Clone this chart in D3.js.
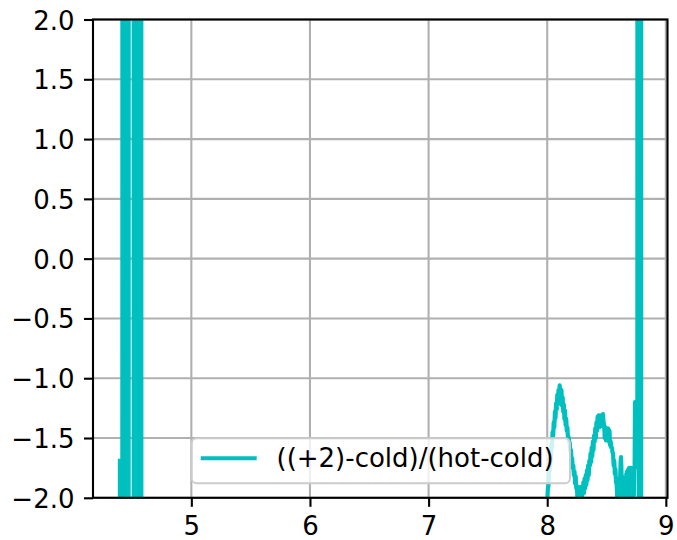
<!DOCTYPE html>
<html>
<head>
<meta charset="utf-8">
<script src="https://cdn.jsdelivr.net/npm/d3@7"></script>
<style>
  html, body { margin: 0; padding: 0; background: #ffffff; }
  svg { display: block; }
  text { font-family: "DejaVu Sans", sans-serif; fill: #000; }
</style>
</head>
<body>
<script>
// ---- data ----
const seriesLabel = "((+2)-cold)/(hot-cold)";
const xTicks = [5, 6, 7, 8, 9];
const yTicks = [-2.0, -1.5, -1.0, -0.5, 0.0, 0.5, 1.0, 1.5, 2.0];
const xDomain = [4.171, 9.014];
const yDomain = [-2, 2];

// left block: wild oscillations (x, ratio)
const xsLeft = [
  4.398, 4.412, 4.425, 4.432, 4.440, 4.447, 4.455, 4.466, 4.476, 4.486, 4.498, 4.508,
  4.520, 4.528, 4.536, 4.545, 4.553, 4.561, 4.569, 4.575, 4.582
];
const ratioLeft = [
  -1.69, -60, 55, -48, 62, -52, 45, -55, 50, 65, 48, 57,
  -50, 52, -47, 60, -55, 49, -62, 44, -50
];
// middle: below the visible range
const xsMid = [4.62, 4.90, 5.40, 6.00, 6.60, 7.20, 7.70, 7.985];
const ratioMid = [-12, -6, -4.5, -3.8, -3.2, -2.9, -2.6, -2.4];
// right block: noisy bumps
const xsRight = [
  8.000, 8.005, 8.010, 8.015, 8.020, 8.025, 8.030, 8.035, 8.040, 8.045, 8.050, 8.055,
  8.060, 8.065, 8.070, 8.075, 8.080, 8.085, 8.090, 8.095, 8.100, 8.105, 8.110, 8.115,
  8.120, 8.125, 8.130, 8.135, 8.140, 8.145, 8.150, 8.155, 8.160, 8.165, 8.170, 8.175,
  8.180, 8.185, 8.190, 8.195, 8.200, 8.205, 8.210, 8.215, 8.220, 8.225, 8.230, 8.235,
  8.240, 8.245, 8.250, 8.255, 8.260, 8.265, 8.270, 8.275, 8.280, 8.285, 8.290, 8.295,
  8.300, 8.305, 8.310, 8.315, 8.320, 8.325, 8.330, 8.335, 8.340, 8.345, 8.350, 8.355,
  8.360, 8.365, 8.370, 8.375, 8.380, 8.385, 8.390, 8.395, 8.400, 8.405, 8.410, 8.415,
  8.420, 8.425, 8.430, 8.435, 8.440, 8.445, 8.450, 8.455, 8.460, 8.465, 8.470, 8.475,
  8.480, 8.485, 8.490, 8.495, 8.500, 8.505, 8.510, 8.515, 8.520, 8.525, 8.530, 8.535,
  8.540, 8.545, 8.550, 8.555, 8.560, 8.565, 8.570, 8.575, 8.580, 8.585, 8.590, 8.595,
  8.598, 8.601, 8.604, 8.607, 8.610, 8.613, 8.616, 8.619, 8.622, 8.625, 8.628, 8.631,
  8.634, 8.637, 8.640, 8.643, 8.646, 8.649, 8.652, 8.655, 8.658, 8.661, 8.664, 8.667,
  8.670, 8.673, 8.676, 8.679, 8.682, 8.685, 8.688, 8.691, 8.694, 8.697, 8.700, 8.703,
  8.706, 8.709, 8.712, 8.715, 8.718, 8.721, 8.724, 8.727, 8.730, 8.733, 8.737, 8.740,
  8.760, 8.767, 8.775, 8.782, 8.790, 8.794
];
const ratioRight = [
  -2.05, -1.93, -1.90, -1.78, -1.78, -1.67, -1.69, -1.55, -1.58, -1.45, -1.48, -1.37,
  -1.41, -1.28, -1.33, -1.21, -1.26, -1.14, -1.22, -1.10, -1.16, -1.06, -1.14, -1.15,
  -1.10, -1.23, -1.16, -1.28, -1.22, -1.34, -1.27, -1.39, -1.34, -1.44, -1.41, -1.50,
  -1.49, -1.53, -1.54, -1.61, -1.60, -1.68, -1.67, -1.75, -1.73, -1.81, -1.78, -1.88,
  -1.82, -1.92, -1.90, -2.01, -2.06, -1.93, -1.94, -1.95, -1.91, -2.05, -2.09, -1.96,
  -1.97, -1.87, -1.96, -1.84, -1.92, -1.81, -1.89, -1.77, -1.85, -1.73, -1.81, -1.69,
  -1.73, -1.63, -1.70, -1.58, -1.65, -1.53, -1.60, -1.48, -1.53, -1.42, -1.50, -1.37,
  -1.44, -1.32, -1.40, -1.31, -1.41, -1.31, -1.35, -1.40, -1.33, -1.35, -1.30, -1.37,
  -1.39, -1.50, -1.41, -1.52, -1.43, -1.47, -1.45, -1.42, -1.53, -1.44, -1.56, -1.53,
  -1.58, -1.58, -1.62, -1.63, -1.73, -1.69, -1.80, -1.76, -1.87, -1.88, -1.98, -2.10,
  -1.95, -2.08, -1.86, -1.92, -1.84, -1.96, -1.80, -1.70, -1.66, -1.74, -1.90, -1.82,
  -2.06, -1.95, -2.10, -1.98, -2.08, -1.92, -2.10, -1.88, -2.05, -1.84, -1.96, -1.80,
  -2.02, -1.78, -1.94, -1.77, -2.00, -1.76, -1.92, -1.75, -2.04, -1.76, -1.90, -1.75,
  -2.06, -1.77, -1.95, -1.76, -2.02, -1.75, -1.88, -1.76, -1.98, -1.76, -1.75, -1.20,
  -1.25, 60, -50, 55, -45, 40
];

// ---- layout ----
const W = 677, H = 540;
const mLeft = 93, mRight = 667.5, mTop = 19.5, mBottom = 497.8;
const fs = 26;
const cyan = "#00bfbf";

const svg = d3.select("body").append("svg")
  .attr("width", W).attr("height", H)
  .attr("viewBox", `0 0 ${W} ${H}`);

svg.append("rect").attr("width", W).attr("height", H).attr("fill", "#fff");

const x = d3.scaleLinear().domain(xDomain).range([mLeft, mRight]);
const y = d3.scaleLinear().domain(yDomain).range([mBottom, mTop]);

// grid
const grid = svg.append("g");
grid.selectAll("line.gx").data(xTicks).join("line").attr("class", "gx")
  .attr("x1", d => x(d)).attr("x2", d => x(d))
  .attr("y1", mTop).attr("y2", mBottom)
  .attr("stroke", "#b0b0b0").attr("stroke-width", 2.1);
grid.selectAll("line.gy").data(yTicks).join("line").attr("class", "gy")
  .attr("y1", d => y(d)).attr("y2", d => y(d))
  .attr("x1", mLeft).attr("x2", mRight)
  .attr("stroke", "#b0b0b0").attr("stroke-width", 2.1);

// clip
svg.append("clipPath").attr("id", "clip")
  .append("rect").attr("x", mLeft).attr("y", mTop)
  .attr("width", mRight - mLeft).attr("height", mBottom - mTop);

const xs = xsLeft.concat(xsMid, xsRight);
const ratio = ratioLeft.concat(ratioMid, ratioRight);
const pts = xs.map((v, i) => [v, ratio[i]]);
const line = d3.line().x(d => x(d[0])).y(d => y(d[1]));
svg.append("path")
  .attr("clip-path", "url(#clip)")
  .attr("d", line(pts))
  .attr("fill", "none")
  .attr("stroke", cyan)
  .attr("stroke-width", 4.2)
  .attr("stroke-linejoin", "round")
  .attr("stroke-linecap", "square");

// axes
const xAxis = d3.axisBottom(x).tickValues(xTicks).tickSize(9).tickPadding(9)
  .tickFormat(d3.format("d"));
const gx = svg.append("g").attr("transform", `translate(0,${mBottom})`).call(xAxis);
gx.select(".domain").remove();
gx.selectAll(".tick line").attr("stroke", "#000").attr("stroke-width", 2.1);
gx.selectAll(".tick text")
  .attr("font-size", fs).attr("font-family", "DejaVu Sans")
  .attr("dy", null).attr("y", 37.2);

const fmtY = d => (d < 0 ? "\u2212" : "") + Math.abs(d).toFixed(1);
const yAxis = d3.axisLeft(y).tickValues(yTicks).tickSize(9).tickPadding(9)
  .tickFormat(fmtY);
const gy = svg.append("g").attr("transform", `translate(${mLeft},0)`).call(yAxis);
gy.select(".domain").remove();
gy.selectAll(".tick line").attr("stroke", "#000").attr("stroke-width", 2.1);
gy.selectAll(".tick text")
  .attr("font-size", fs).attr("font-family", "DejaVu Sans")
  .attr("dy", null).attr("y", 9.5).attr("x", -18.5);

// spines
svg.append("rect")
  .attr("x", mLeft).attr("y", mTop)
  .attr("width", mRight - mLeft).attr("height", mBottom - mTop)
  .attr("fill", "none").attr("stroke", "#000").attr("stroke-width", 2.1);

// legend
const lg = svg.append("g");
lg.append("rect")
  .attr("x", 191.7).attr("y", 438.3).attr("width", 378.3).attr("height", 45)
  .attr("rx", 5).attr("ry", 5)
  .attr("fill", "#fff").attr("fill-opacity", 0.8)
  .attr("stroke", "#cccccc").attr("stroke-width", 2);
lg.append("line")
  .attr("x1", 200.7).attr("x2", 256.7).attr("y1", 458.3).attr("y2", 458.3)
  .attr("stroke", cyan).attr("stroke-width", 4);
lg.append("text")
  .attr("x", 276.5).attr("y", 467.4)
  .attr("font-size", fs)
  .text(seriesLabel);
</script>
</body>
</html>
